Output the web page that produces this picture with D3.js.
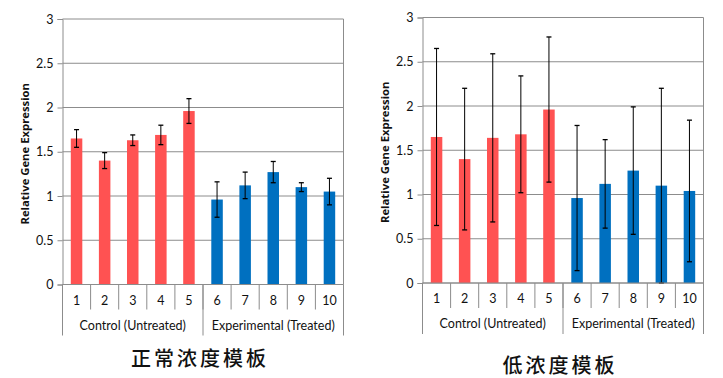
<!DOCTYPE html>
<html>
<head>
<meta charset="utf-8">
<script src="https://cdn.jsdelivr.net/npm/d3@7"></script>
<style>
  body { margin: 0; background: #fff; }
  svg text { font-family: Lato, "Open Sans", sans-serif; fill: #111; }
</style>
</head>
<body>
<svg id="chart" width="723" height="378"></svg>
<script>
// categories and groups
var categories = ["1", "2", "3", "4", "5", "6", "7", "8", "9", "10"];
var groupNames = ["Control (Untreated)", "Experimental (Treated)"];
var groupOf = [0, 0, 0, 0, 0, 1, 1, 1, 1, 1];
var yTicks = [0, 0.5, 1, 1.5, 2, 2.5, 3];

// left panel: normal concentration
var normalValues = [1.65, 1.40, 1.63, 1.69, 1.96, 0.96, 1.12, 1.27, 1.10, 1.05];
var normalErrors = [0.10, 0.09, 0.06, 0.11, 0.14, 0.20, 0.15, 0.12, 0.05, 0.15];

// right panel: low concentration
var lowValues = [1.65, 1.40, 1.64, 1.68, 1.96, 0.96, 1.12, 1.27, 1.10, 1.04];
var lowErrors = [1.00, 0.80, 0.95, 0.66, 0.82, 0.82, 0.50, 0.72, 1.10, 0.80];

var groupColors = ["#ff5252", "#0070c0"];

var svg = d3.select("#chart");

function panel(ox, oy, values, errors, title, titleY) {
    var width = 281, height = 265.5;
    var g = svg.append("g").attr("transform", "translate(" + ox + "," + oy + ")");

    var x = d3.scaleBand().domain(categories).range([0, width]).paddingInner(0).paddingOuter(0);
    var y = d3.scaleLinear().domain([0, 3]).range([height, 0]);

    // gridlines
    g.selectAll("line.grid").data(yTicks).enter()
        .append("line")
        .attr("x1", 0).attr("x2", width)
        .attr("y1", d => y(d)).attr("y2", d => y(d))
        .attr("stroke", "#8c8c8c").attr("stroke-width", 1);
    // right border
    g.append("line").attr("x1", width).attr("x2", width)
        .attr("y1", 0).attr("y2", height)
        .attr("stroke", "#8c8c8c");

    // y axis
    var yAxis = d3.axisLeft(y).tickValues(yTicks).tickSize(5).tickPadding(4)
        .tickFormat(d => String(d));
    var ya = g.append("g").call(yAxis);
    ya.select(".domain").attr("stroke", "#8c8c8c");
    ya.selectAll(".tick line").attr("stroke", "#8c8c8c");
    ya.selectAll("text").attr("font-size", 12.5).style("fill", "#111");

    g.append("text")
        .attr("transform", "translate(" + (-33.5) + "," + (height / 2 + 2) + ") rotate(-90)")
        .attr("text-anchor", "middle")
        .attr("font-size", 11.3)
        .style("font-family", "'Open Sans', sans-serif")
        .style("font-weight", "bold")
        .text("Relative Gene Expression");

    // bars
    var barW = 11.5;
    g.selectAll("rect.bar").data(values).enter()
        .append("rect")
        .attr("x", (d, i) => x(categories[i]) + (x.bandwidth() - barW) / 2)
        .attr("y", d => y(d))
        .attr("width", barW)
        .attr("height", d => height - y(d))
        .attr("fill", (d, i) => groupColors[groupOf[i]]);

    // error bars
    var eb = g.selectAll("g.err").data(values).enter().append("g")
        .attr("transform", (d, i) => "translate(" + (x(categories[i]) + x.bandwidth() / 2) + ",0)");
    eb.append("line")
        .attr("y1", (d, i) => y(d + errors[i]))
        .attr("y2", (d, i) => y(Math.max(0, d - errors[i])))
        .attr("stroke", "#000").attr("stroke-width", 1);
    eb.append("line").attr("x1", -2.5).attr("x2", 2.5)
        .attr("y1", (d, i) => y(d + errors[i])).attr("y2", (d, i) => y(d + errors[i]))
        .attr("stroke", "#000").attr("stroke-width", 1.3);
    eb.append("line").attr("x1", -2.5).attr("x2", 2.5)
        .attr("y1", (d, i) => y(Math.max(0, d - errors[i]))).attr("y2", (d, i) => y(Math.max(0, d - errors[i])))
        .attr("stroke", "#000").attr("stroke-width", 1.3);

    // category axis
    g.append("line").attr("x1", 0).attr("x2", width)
        .attr("y1", height).attr("y2", height).attr("stroke", "#8c8c8c");
    g.selectAll("line.ctick").data(categories.slice(1)).enter()
        .append("line")
        .attr("x1", d => x(d)).attr("x2", d => x(d))
        .attr("y1", height).attr("y2", height + 25)
        .attr("stroke", "#8c8c8c");
    g.selectAll("text.cat").data(categories).enter()
        .append("text")
        .attr("x", d => x(d) + x.bandwidth() / 2)
        .attr("y", height + 20)
        .attr("text-anchor", "middle")
        .attr("font-size", 12.5)
        .text(d => d);

    // group separators and labels
    var bounds = [0, x(categories[5]), width];
    g.selectAll("line.gsep").data(bounds).enter()
        .append("line")
        .attr("x1", d => d).attr("x2", d => d)
        .attr("y1", height).attr("y2", height + 51)
        .attr("stroke", "#8c8c8c");
    g.selectAll("text.grp").data(groupNames).enter()
        .append("text")
        .attr("x", (d, i) => (bounds[i] + bounds[i + 1]) / 2)
        .attr("y", height + 45)
        .attr("text-anchor", "middle")
        .attr("font-size", 12.5)
        .text(d => d);

    svg.append("text")
        .attr("x", ox + width / 2 - 3)
        .attr("y", titleY)
        .attr("text-anchor", "middle")
        .attr("font-size", 20)
        .style("font-family", "'Noto Sans CJK SC', sans-serif")
        .style("font-weight", "500")
        .style("letter-spacing", "3px")
        .text(title);
}

panel(62.5, 19, normalValues, normalErrors, "正常浓度模板", 366);
panel(422.5, 17.5, lowValues, lowErrors, "低浓度模板", 373);
</script>
</body>
</html>
